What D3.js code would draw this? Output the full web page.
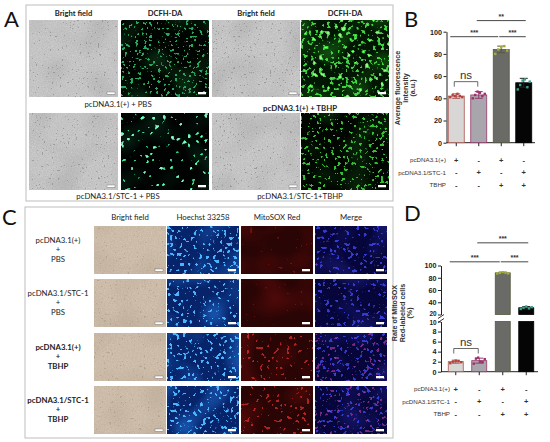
<!DOCTYPE html>
<html><head><meta charset="utf-8">
<script src="https://cdn.jsdelivr.net/npm/d3@7"></script>
<style>body{margin:0;background:#fff}</style>
</head><body><svg id="fig" width="550" height="442"></svg>
<script>
// ---------------- data ----------------
const aColumns = ["Bright field","DCFH-DA","Bright field","DCFH-DA"];
const aGroups = ["pcDNA3.1(+) + PBS","pcDNA3.1(+) + TBHP","pcDNA3.1/STC-1 + PBS","pcDNA3.1/STC-1+TBHP"];
const cColumns = ["Bright field","Hoechst 33258","MitoSOX Red","Merge"];
const cRows = [["pcDNA3.1(+)","+","PBS"],["pcDNA3.1/STC-1","+","PBS"],["pcDNA3.1(+)","+","TBHP"],["pcDNA3.1/STC-1","+","TBHP"]];
const tableRows = ["pcDNA3.1(+)","pcDNA3.1/STC-1","TBHP"];
const tableSigns = [["+","-","+","-"],["-","+","-","+"],["-","-","+","+"]];
const bMeans = [42,43,84,54];
const bSD = [2,3,3,4];
const bPoints = [[41,43,42,44,42,41],[40,43,46,45,42,44],[80,84,86,87,83],[48,52,56,57,50,55]];
const bTicks = [0,20,40,60,80,100];
const bYLabel = ["Average fluorescence","intensity","(a.u.)"];
const dMeans = [2.0,2.2,88,31];
const dSD = [0.3,0.5,1.2,2];
const dPoints = [[1.7,2.0,2.2,2.1,1.9],[1.6,2.6,2.8,2.0,1.9,2.5],[87,88,89,88,87],[29,31,33,30,32]];
const dTicksLow = [0,2,4,6,8,10];
const dTicksHigh = [20,40,60,80,100];
const dYLabel = ["Rate of MitoSOX","Red-labeled cells","(%)"];
const bSig = [{a:0,b:2,v:95.5,t:"***"},{a:2,b:3,v:95.5,t:"***"},{a:1,b:3,v:110,t:"**"}];
const dSig = [{a:0,b:2,v:106,t:"***"},{a:2,b:3,v:106,t:"***"},{a:1,b:3,v:137,t:"***"}];
const nsLabel = "ns";

// ---------------- styles ----------------
const barFill = ["#d9d6d6","#a9a5ac","#6a6b67","#050505"];
const barStroke = ["#a9544e","#93396a","#55583f","#000000"];
const dotColor = ["#b4443e","#a0306a","#a3ad3a","#3aa08e"];
const LBL = "Lato, 'Open Sans', sans-serif";
const CH = "'Liberation Sans', Arial, sans-serif";

const svg = d3.select("#fig");
svg.append("rect").attr("width",550).attr("height",442).attr("fill","#fff");
const defs = svg.append("defs");

// --------- texture filters for micrographs (noise -> threshold [-> intersect] -> round) ---------
function thr(f, seed, freq, oct, k, b, name){
  f.append("feTurbulence").attr("type","fractalNoise").attr("baseFrequency",freq)
    .attr("numOctaves",oct).attr("seed",seed).attr("result",name+"n");
  f.append("feColorMatrix").attr("in",name+"n").attr("type","matrix")
    .attr("values",`0 0 0 0 1 0 0 0 0 1 0 0 0 0 1 ${k} 0 0 0 ${b}`).attr("result",name);
}
function addLayer(f, L, i, pre){
  const m = pre+"m"+i;
  thr(f, L.seed, L.freq, L.oct||1, L.k, L.b, m+"a");
  let mask = m+"a";
  if (L.seed2 != null){
    thr(f, L.seed2, L.freq, L.oct||1, L.k, L.b, m+"b");
    f.append("feComposite").attr("in",m+"a").attr("in2",m+"b").attr("operator","in").attr("result",m+"x");
    mask = m+"x";
  }
  if (L.round){
    f.append("feGaussianBlur").attr("in",mask).attr("stdDeviation",L.round).attr("result",m+"r");
    const c2 = f.append("feComponentTransfer").attr("in",m+"r").attr("result",m+"r2");
    c2.append("feFuncA").attr("type","linear").attr("slope",3).attr("intercept",-1.0);
    mask = m+"r2";
  }
  f.append("feFlood").attr("flood-color",L.color).attr("flood-opacity",L.op||1).attr("result",m+"f");
  f.append("feComposite").attr("in",m+"f").attr("in2",mask).attr("operator","in").attr("result",m+"out");
  return m+"out";
}
function flFilter(id, spec){
  const f = defs.append("filter").attr("id",id).attr("x",0).attr("y",0).attr("width",1).attr("height",1)
    .attr("color-interpolation-filters","sRGB");
  f.append("feFlood").attr("flood-color",spec.bg).attr("result","bg");
  const names = ["bg"];
  spec.layers.forEach((L,i)=>names.push(addLayer(f,L,i,"L")));
  const m = f.append("feMerge");
  names.forEach(n=>m.append("feMergeNode").attr("in",n));
}
function bfFilter(id, spec){
  const f = defs.append("filter").attr("id",id).attr("x",0).attr("y",0).attr("width",1).attr("height",1)
    .attr("color-interpolation-filters","sRGB");
  f.append("feTurbulence").attr("type","fractalNoise").attr("baseFrequency",spec.freq)
    .attr("numOctaves",3).attr("seed",spec.seed).attr("result","n");
  const a = spec.amp, c = spec.base;
  f.append("feColorMatrix").attr("in","n").attr("type","matrix")
    .attr("values",`${a} 0 0 0 ${c[0]-a/2} ${a} 0 0 0 ${c[1]-a/2} ${a} 0 0 0 ${c[2]-a/2} 0 0 0 0 1`)
    .attr("result","base");
  const names = ["base"];
  (spec.layers||[]).forEach((L,i)=>names.push(addLayer(f,L,i,"S")));
  const m = f.append("feMerge");
  names.forEach(n=>m.append("feMergeNode").attr("in",n));
}
function drawImage(id, x, y, w, h, bright){
  svg.append("rect").attr("x",x).attr("y",y).attr("width",w).attr("height",h)
    .attr("fill","#888").attr("filter",`url(#${id})`);
  svg.append("rect").attr("x",x+w-11).attr("y",y+h-5).attr("width",8).attr("height",2.3)
    .attr("fill","#fff").attr("stroke",bright?"#666":"none").attr("stroke-width",0.4);
}

const glow = (c,s,op) => ({color:c,freq:0.035,seed:s,k:3.3,b:-1.5,op:op});
const cell = (c,f,s,k,b,extra) => Object.assign({color:c,freq:f,seed:s,seed2:s+500,k:k,b:b,round:0.55},extra||{});
const bfA = s => ({freq:0.8, seed:s, amp:0.12, base:[0.77,0.77,0.77],
  layers:[cell("#4a4a4a",0.5,s+40,10,-5.75,{op:0.32,round:0.45}), glow("#8e8e8e",s+42,0.22)]});
const bfC = s => ({freq:0.7, seed:s, amp:0.09, base:[0.80,0.735,0.66],
  layers:[cell("#6e5e4c",0.5,s+40,10,-5.85,{op:0.24,round:0.45}), glow("#a89886",s+42,0.25)]});

const aSpecs = [
  [ {t:"bf",s:bfA(1)},
    {t:"fl",s:{bg:"#010501",layers:[
      glow("#0d3318",21,0.8),
      cell("#27a85e",0.36,22,10,-4.9)]}},
    {t:"bf",s:bfA(2)},
    {t:"fl",s:{bg:"#031603",layers:[
      glow("#176017",31,0.8),
      cell("#3ed23e",0.26,32,8,-3.55),
      cell("#a8ff98",0.26,32,10,-5.7,{op:0.8})]}} ],
  [ {t:"bf",s:bfA(3)},
    {t:"fl",s:{bg:"#010302",layers:[
      glow("#0a2c1c",41,0.7),
      cell("#30cc88",0.24,42,9,-4.65),
      cell("#b0ffdc",0.24,42,12,-7.1,{op:0.7})]}},
    {t:"bf",s:bfA(4)},
    {t:"fl",s:{bg:"#010601",layers:[
      glow("#0e320e",51,0.8),
      cell("#34c034",0.32,52,10,-4.95)]}} ]
];

const cSpecs = [0,1,2,3].map(r=>{
  const tb = r>=2;
  return [
    {t:"bf",s:bfC(60+r)},
    {t:"fl",s:{bg:"#07246a",layers:[
      glow("#1c5cb8",70+r,0.8),
      cell("#4ab4ff",0.3,80+r,10,-4.9)]}},
    {t:"fl",s:{bg:"#2a0505",layers:[
      glow("#540a0a",90+r,0.8),
      cell(tb?"#e83030":"#b01818",0.3,100+r,10,tb?-5.25:-6.1,{op:tb?0.7:0.5})]}},
    {t:"fl",s:{bg:"#06063a",layers:[
      glow("#1c1c7c",110+r,0.8),
      cell("#3c44e6",0.3,80+r,10,-5.0,{op:0.85}),
      cell("#c040b0",0.3,100+r,10,tb?-5.25:-6.1,{op:tb?0.6:0.3})]}}
  ];
});

// ---------------- panel A ----------------
svg.append("rect").attr("x",26).attr("y",5).attr("width",367).attr("height",196)
  .attr("fill","none").attr("stroke","#bdbdbd").attr("stroke-width",1);
const aX=[29,121,212,301], aW=[89,88,88,88], aY=[20,113], aH=77;
aColumns.forEach((t,i)=>svg.append("text").attr("x",aX[i]+aW[i]/2).attr("y",16)
  .attr("text-anchor","middle").attr("font-family",LBL).attr("font-weight",700)
  .attr("font-size",7.6).attr("fill","#222").text(t));
aSpecs.forEach((row,r)=>row.forEach((sp,c)=>{
  const id=`a${r}${c}`;
  if(sp.t==="bf") bfFilter(id,sp.s); else flFilter(id,sp.s);
  drawImage(id,aX[c],aY[r],aW[c],aH,sp.t==="bf");
}));
const aLabelPos=[[118,107],[300,110.5],[118,198.5],[300,198.5]];
aGroups.forEach((t,i)=>svg.append("text").attr("x",aLabelPos[i][0]).attr("y",aLabelPos[i][1])
  .attr("text-anchor","middle").attr("font-family",LBL).attr("font-weight",i==1?700:400)
  .attr("font-size",7.8).attr("fill","#222").text(t));

// ---------------- panel C ----------------
svg.append("rect").attr("x",25).attr("y",207).attr("width",368).attr("height",231)
  .attr("fill","none").attr("stroke","#bdbdbd").attr("stroke-width",1);
const cX=[94,167,241,315], cW=72, cY=[226,279,333,386], cH=48;
cColumns.forEach((t,i)=>svg.append("text").attr("x",cX[i]+cW/2).attr("y",219.5)
  .attr("text-anchor","middle").attr("font-family",LBL).attr("font-weight",400)
  .attr("font-size",7.8).attr("fill","#222").text(t));
cSpecs.forEach((row,r)=>row.forEach((sp,c)=>{
  const id=`c${r}${c}`;
  if(sp.t==="bf") bfFilter(id,sp.s); else flFilter(id,sp.s);
  drawImage(id,cX[c],cY[r],cW,cH,sp.t==="bf");
}));
cRows.forEach((lines,r)=>{
  const cy=cY[r]+cH/2;
  lines.forEach((t,j)=>svg.append("text").attr("x",58).attr("y",cy-7+j*9.3)
    .attr("text-anchor","middle").attr("font-family",LBL).attr("font-weight",r>=2?700:400)
    .attr("font-size",7.8).attr("fill","#222").text(t));
});

// ---------------- panel letters ----------------
[["A",4,27],["B",404,27],["C",2,225],["D",404,221]].forEach(([t,x,y])=>
  svg.append("text").attr("x",x).attr("y",y).attr("font-family",LBL).attr("font-size",22)
   .attr("fill","#111").text(t));

// ---------------- helpers for bar charts ----------------
function tableBelow(x, y0, labelX){
  const offs=[19.5,32,44.5];
  tableRows.forEach((t,r)=>{
    svg.append("text").attr("x",labelX).attr("y",y0+offs[r]).attr("text-anchor","end")
      .attr("font-family",CH).attr("font-size",6.2).attr("fill","#333").text(t);
    tableSigns[r].forEach((s,i)=>svg.append("text").attr("x",x(i)).attr("y",y0+offs[r]+0.5)
      .attr("text-anchor","middle").attr("font-family",CH).attr("font-weight",700)
      .attr("font-size",7.5).attr("fill","#333").text(s));
  });
}
function yLabel(lines, xs, cy){
  lines.forEach((t,i)=>svg.append("text").attr("transform",`translate(${xs[i]},${cy}) rotate(-90)`)
    .attr("text-anchor","middle").attr("dy","0.35em").attr("font-family",CH).attr("font-weight",700)
    .attr("font-size",7.2).attr("fill","#333").text(t));
}
function styleAxis(g){
  g.selectAll("path,line").attr("stroke","#222").attr("stroke-width",1);
  g.selectAll("text").attr("font-family",CH).attr("font-weight",700).attr("font-size",7.2).attr("fill","#222");
}
function sigLines(x, yFn, sig){
  sig.forEach(s=>{
    const x1 = x(s.a) - (s.a===0?6:2), x2 = x(s.b) + (sig.some(o=>o!==s && o.a===s.b && o.v===s.v)?-3:2);
    svg.append("line").attr("x1",x1).attr("x2",x2).attr("y1",yFn(s.v)).attr("y2",yFn(s.v))
      .attr("stroke","#333").attr("stroke-width",0.9);
    svg.append("text").attr("x",(x1+x2)/2).attr("y",yFn(s.v)-1.5).attr("text-anchor","middle")
      .attr("font-family",CH).attr("font-weight",700).attr("font-size",7).attr("fill","#333").text(s.t);
  });
}
function nsBracket(x, yTop){
  const x1=x(0)-2, x2=x(1)-1;
  svg.append("path").attr("d",`M${x1},${yTop+5}V${yTop}H${x2}V${yTop+5}`)
    .attr("fill","none").attr("stroke","#444").attr("stroke-width",0.8);
  svg.append("text").attr("x",(x1+x2)/2).attr("y",yTop-2.3).attr("text-anchor","middle")
    .attr("font-family",CH).attr("font-size",11.5).attr("fill","#333").text(nsLabel);
}

// ---------------- panel B ----------------
{
  const idx=d3.range(bMeans.length);
  const x=d3.scalePoint().domain(idx).range([445,535]).padding(0.5);
  const y=d3.scaleLinear().domain([0,100]).range([142.7,31.7]);
  const bw=16, ax=446.5;
  const g=svg.append("g").attr("transform",`translate(${ax},0)`)
    .call(d3.axisLeft(y).tickValues(bTicks).tickSize(3).tickSizeOuter(0).tickPadding(1.5));
  styleAxis(g);
  svg.append("line").attr("x1",ax).attr("x2",535).attr("y1",y(0)).attr("y2",y(0)).attr("stroke","#222");
  idx.forEach(i=>svg.append("line").attr("x1",x(i)).attr("x2",x(i)).attr("y1",y(0)).attr("y2",y(0)+3.5).attr("stroke","#222"));
  idx.forEach(i=>{
    svg.append("rect").attr("x",x(i)-bw/2).attr("y",y(bMeans[i])).attr("width",bw)
      .attr("height",y(0)-y(bMeans[i])).attr("fill",barFill[i]).attr("stroke",barStroke[i]).attr("stroke-width",0.8);
    const ec=i===3?"#222":barStroke[i];
    svg.append("line").attr("x1",x(i)).attr("x2",x(i)).attr("y1",y(bMeans[i]-bSD[i])).attr("y2",y(bMeans[i]+bSD[i])).attr("stroke",ec);
    [bMeans[i]-bSD[i],bMeans[i]+bSD[i]].forEach(v=>svg.append("line").attr("x1",x(i)-4).attr("x2",x(i)+4)
      .attr("y1",y(v)).attr("y2",y(v)).attr("stroke",ec));
    const n=bPoints[i].length;
    bPoints[i].forEach((v,j)=>svg.append("rect").attr("x",x(i)-6+12*j/(n-1)-1.2).attr("y",y(v)-1.2)
      .attr("width",2.4).attr("height",2.4).attr("fill",dotColor[i]));
  });
  sigLines(x,y,bSig);
  nsBracket(x,y(55));
  yLabel(bYLabel,[397,405.5,412.5],88);
  tableBelow(x,y(0),446);
}

// ---------------- panel D (broken axis) ----------------
{
  const idx=d3.range(dMeans.length);
  const x=d3.scalePoint().domain(idx).range([444,538]).padding(0.5);
  const yLo=d3.scaleLinear().domain([0,10]).range([371.7,321.5]);
  const yHi=d3.scaleLinear().domain([20,100]).range([314.5,265.5]);
  const y=v=>v<=10?yLo(v):yHi(v);
  const bw=15, ax=441;
  [[yLo,dTicksLow,1.2],[yHi,dTicksHigh,-1.2]].forEach(([s,t,nudge])=>{
    const g=svg.append("g").attr("transform",`translate(${ax},0)`)
      .call(d3.axisLeft(s).tickValues(t).tickSize(3).tickSizeOuter(0).tickPadding(1.5));
    styleAxis(g);
    g.selectAll(".tick text").filter(d=>d===10||d===20).attr("font-size",6.4).attr("y",nudge);
  });
  [316.5,320.5].forEach(yy=>svg.append("line").attr("x1",ax-3).attr("x2",ax+3).attr("y1",yy+2).attr("y2",yy-2)
    .attr("stroke","#222").attr("stroke-width",0.9));
  svg.append("line").attr("x1",ax).attr("x2",538).attr("y1",yLo(0)).attr("y2",yLo(0)).attr("stroke","#222");
  idx.forEach(i=>svg.append("line").attr("x1",x(i)).attr("x2",x(i)).attr("y1",yLo(0)).attr("y2",yLo(0)+3.5).attr("stroke","#222"));
  idx.forEach(i=>{
    const v=dMeans[i];
    const segs = v>10 ? [[0,10,yLo],[20,v,yHi]] : [[0,v,yLo]];
    segs.forEach(([a,b,s])=>svg.append("rect").attr("x",x(i)-bw/2).attr("y",s(b)).attr("width",bw)
      .attr("height",s(a)-s(b)).attr("fill",barFill[i]).attr("stroke",barStroke[i]).attr("stroke-width",0.8));
    const ec=i===3?"#222":barStroke[i];
    svg.append("line").attr("x1",x(i)).attr("x2",x(i)).attr("y1",y(v-dSD[i])).attr("y2",y(v+dSD[i])).attr("stroke",ec);
    [v-dSD[i],v+dSD[i]].forEach(u=>svg.append("line").attr("x1",x(i)-4).attr("x2",x(i)+4)
      .attr("y1",y(u)).attr("y2",y(u)).attr("stroke",ec));
    const n=dPoints[i].length;
    dPoints[i].forEach((u,j)=>svg.append("rect").attr("x",x(i)-5.5+11*j/(n-1)-1.2).attr("y",y(u)-1.2)
      .attr("width",2.4).attr("height",2.4).attr("fill",dotColor[i]));
  });
  sigLines(x,yHi,dSig);
  nsBracket(x,348.5);
  yLabel(dYLabel,[394.5,402.5,409.5],313);
  tableBelow(x,yLo(0),450);
}
</script></body></html>
